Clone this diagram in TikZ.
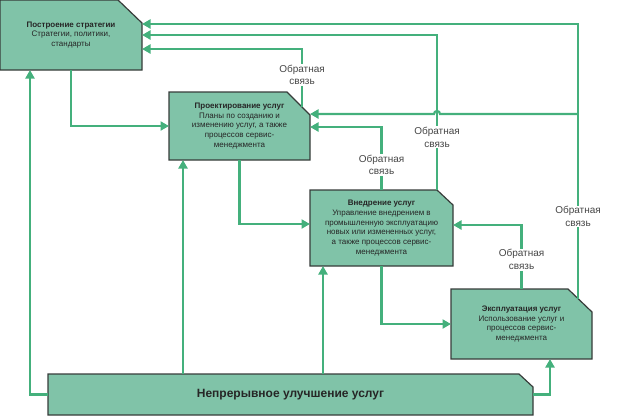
\documentclass[tikz,border=0pt]{standalone}
\usepackage{fontspec}
\setmainfont{Liberation Sans}
\usetikzlibrary{arrows.meta,backgrounds}
\definecolor{boxfill}{RGB}{128,195,168}
\definecolor{boxline}{RGB}{55,60,58}
\definecolor{flowgreen}{RGB}{68,176,124}
\definecolor{labelgray}{RGB}{70,70,70}
% box with the north east corner cut off
\newcommand{\cutbox}[3]{%
  \filldraw[boxstyle] (#1.south west) -- (#1.north west) -- ([xshift=-#2]#1.north east)
    -- ([yshift=-#3]#1.north east) -- (#1.south east) -- cycle;}
\begin{document}
\begin{tikzpicture}[x=1pt,y=-1pt,
  stage/.style={inner sep=0pt,outer sep=0pt,align=center,text=black!85,font=\fontsize{8}{9.8}\selectfont},
  boxstyle/.style={fill=boxfill,draw=boxline,line width=1.2pt,line join=miter},
  flow/.style={draw=flowgreen,line width=2.2pt,-{Triangle[length=8.5pt,width=9pt]}},
  fb/.style={fill=white,inner sep=1pt,align=center,text=labelgray,font=\fontsize{10}{12.5}\selectfont}]
\useasboundingbox (0,0) rectangle (620,416);
			\node[stage,minimum width=142pt,minimum height=70pt] (strat)at(71,35) {\textbf{Построение стратегии}\\Стратегии, политики,\\стандарты};
			\node[stage,minimum width=141pt,minimum height=68pt] (design)at(239.5,126) {\textbf{Проектирование услуг}\\Планы по созданию и\\изменению услуг, а также\\процессов сервис-\\менеджмента};
			\node[stage,minimum width=143pt,minimum height=76pt] (impl)at(381.5,228) {\textbf{Внедрение услуг}\\Управление внедрением в\\промышленную эксплуатацию\\новых или измененных услуг,\\а также процессов сервис-\\менеджмента};
			\node[stage,minimum width=141pt,minimum height=70pt] (oper)at(521.5,324) {\textbf{Эксплуатация услуг}\\Использование услуг и\\процессов сервис-\\менеджмента};
			\node[stage,minimum width=485pt,minimum height=41pt,font=\fontsize{12}{14}\selectfont\bfseries] (cont)at(290.5,394.5) {Непрерывное улучшение услуг};
			\begin{scope}[on background layer]
			\cutbox{strat}{24pt}{23pt}
			\cutbox{design}{23pt}{23pt}
			\cutbox{impl}{16pt}{15pt}
			\cutbox{oper}{24pt}{23pt}
			\cutbox{cont}{14pt}{13pt}
			\end{scope}
			% lifecycle
			\draw[flow] (strat.south) |- (design.west);
			\draw[flow] (design.south) |- ([yshift=4pt]impl.west);
			\draw[flow] (impl.south) |- (oper.west);
			% continual improvement
			\coordinate (dup) at ([xshift=14pt]design.south west);
			\coordinate (iup) at ([xshift=13pt]impl.south west);
			\draw[flow] (cont.west) -| ([xshift=-41pt]strat.south);
			\draw[flow] (dup |- cont.north) -- (dup);
			\draw[flow] (iup |- cont.north) -- (iup);
			\draw[flow] (cont.east) -| ([xshift=-42pt]oper.south east);
			% feedback
			\coordinate (dfb) at ([xshift=-8pt,yshift=-15pt]design.north east);
			\coordinate (ifb) at ([xshift=-16pt]impl.north east);
			\coordinate (ofb) at ([xshift=-14pt,yshift=-10pt]oper.north east);
			\coordinate (dtap) at ([yshift=12pt]design.east);
			\coordinate (hop) at (ifb |- dtap);
			\draw[flow] (dfb) |- node[fb,pos=0.275] {Обратная\\связь} ([yshift=-14pt]strat.east);
			\draw[flow] (impl.north) |- node[fb,pos=0.2] {Обратная\\связь} ([yshift=-1pt]design.east);
			\draw[flow] (ifb) |- node[fb,pos=0.17] {Обратная\\связь} (strat.east);
			\draw[flow] (oper.north) |- node[fb,pos=0.23] {Обратная\\связь} ([yshift=3pt]impl.east);
			\draw[flow] (ofb) |- node[fb,pos=0.15] {Обратная\\связь} ([yshift=11pt]strat.east);
			\draw[flow] (ofb |- dtap) -- ([xshift=3pt]hop) arc[start angle=0,end angle=180,radius=3pt] -- (dtap);
		\end{tikzpicture}
\end{document}
